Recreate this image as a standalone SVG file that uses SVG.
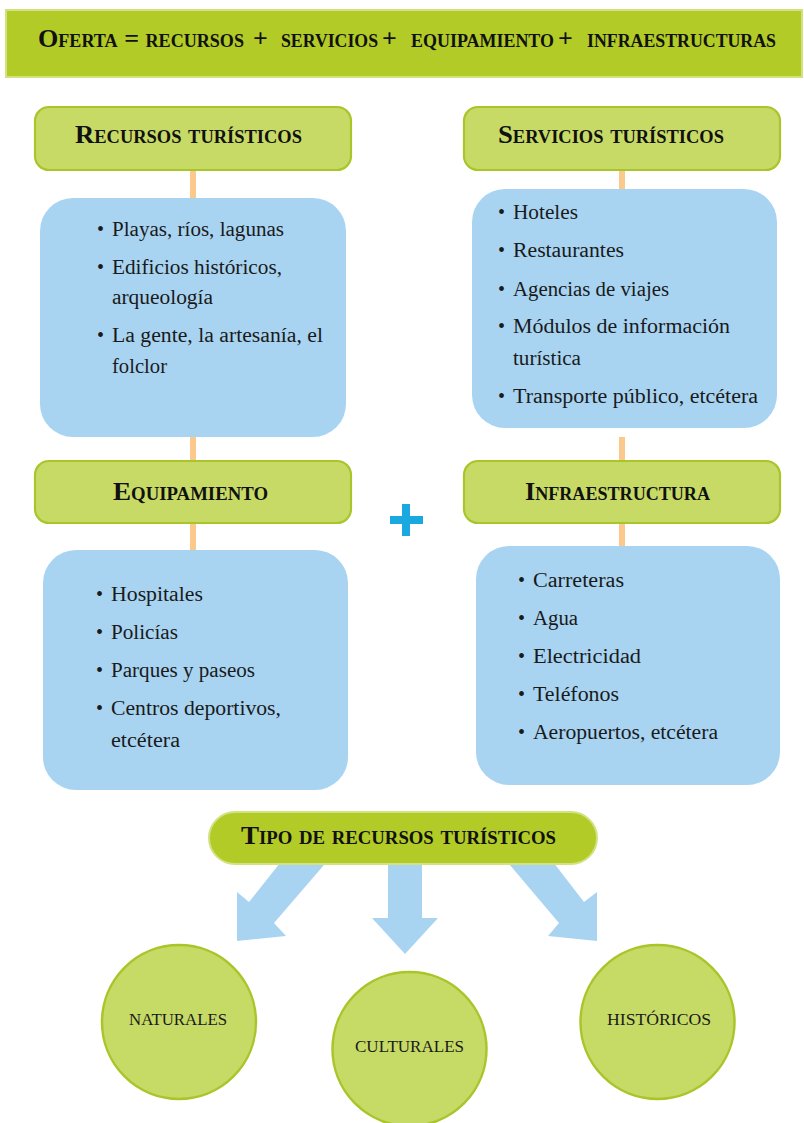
<svg xmlns="http://www.w3.org/2000/svg" width="804" height="1123" viewBox="0 0 804 1123">
<style>
.title{font-family:"Liberation Serif",serif;font-size:26px;font-weight:bold;font-variant:small-caps;fill:#111;text-anchor:middle}
.htxt{font-family:"Liberation Serif",serif;font-size:26px;font-weight:bold;font-variant:small-caps;fill:#111}
.tbox{fill:#c8da66;stroke:#a8c52a;stroke-width:2.2}
.blue{fill:#a8d4f2}
.item{font-family:"Liberation Serif",serif;font-size:20px;fill:#1a1a1a}
.conn{fill:#fcc98c}
.arrow{fill:#a8d4f2}
.circ{fill:#c6da66;stroke:#a9c52a;stroke-width:2.5}
.clab{font-family:"Liberation Serif",serif;font-size:17px;fill:#1a1a1a;text-anchor:middle}
</style>

<g id="header">
<rect x="6" y="10" width="796" height="67" fill="#b2cb27" stroke="#d2e282" stroke-width="2"/>
<text class="htxt" x="38" y="47" textLength="206" lengthAdjust="spacingAndGlyphs">Oferta = recursos</text>
<text class="htxt" x="253" y="47">+</text>
<text class="htxt" x="281" y="47" textLength="97" lengthAdjust="spacingAndGlyphs">servicios</text>
<text class="htxt" x="382" y="47">+</text>
<text class="htxt" x="411" y="47" textLength="143" lengthAdjust="spacingAndGlyphs">equipamiento</text>
<text class="htxt" x="558" y="47">+</text>
<text class="htxt" x="587" y="47" textLength="189" lengthAdjust="spacingAndGlyphs">infraestructuras</text>
</g>

<g id="connectors">
<rect class="conn" x="190" y="170" width="6" height="28"/>
<rect class="conn" x="190" y="437" width="6" height="24"/>
<rect class="conn" x="190" y="523" width="6" height="27"/>
<rect class="conn" x="619" y="170" width="6" height="19"/>
<rect class="conn" x="619" y="437" width="6" height="24"/>
<rect class="conn" x="619" y="523" width="6" height="23"/>
<polygon class="arrow" points="284,858 330,858 274,923 286,936 237,941 237,892 249,902"/>
<polygon class="arrow" points="388,858 422,858 422,918 438,918 405,954 372,918 388,918"/>
<polygon class="arrow" points="504,858 550,858 584,902 597,892 597,941 548,936 559,923"/>
</g>

<g id="recursos-turisticos">
<rect class="tbox" x="35" y="107" width="316" height="63" rx="14"/>
<text class="title" x="188.5" y="143" textLength="227" lengthAdjust="spacingAndGlyphs">Recursos turísticos</text>
</g>

<g id="recursos-lista">
<rect class="blue" x="40" y="198" width="306" height="239" rx="33"/>
<g class="item">
<text x="97" y="236">•</text><text x="112" y="236" textLength="172" lengthAdjust="spacingAndGlyphs">Playas, ríos, lagunas</text>
<text x="97" y="274">•</text><text x="112" y="274" textLength="170" lengthAdjust="spacingAndGlyphs">Edificios históricos,</text>
<text x="112" y="304" textLength="101" lengthAdjust="spacingAndGlyphs">arqueología</text>
<text x="97" y="342">•</text><text x="112" y="342" textLength="211" lengthAdjust="spacingAndGlyphs">La gente, la artesanía, el</text>
<text x="112" y="373" textLength="55" lengthAdjust="spacingAndGlyphs">folclor</text>
</g>
</g>

<g id="servicios-turisticos">
<rect class="tbox" x="464" y="107" width="316" height="63" rx="14"/>
<text class="title" x="611" y="143" textLength="226" lengthAdjust="spacingAndGlyphs">Servicios turísticos</text>
</g>

<g id="servicios-lista">
<rect class="blue" x="472" y="189" width="305" height="239" rx="33"/>
<g class="item">
<text x="498" y="219">•</text><text x="513" y="219" textLength="65" lengthAdjust="spacingAndGlyphs">Hoteles</text>
<text x="498" y="257">•</text><text x="513" y="257" textLength="111" lengthAdjust="spacingAndGlyphs">Restaurantes</text>
<text x="498" y="296">•</text><text x="513" y="296" textLength="156" lengthAdjust="spacingAndGlyphs">Agencias de viajes</text>
<text x="498" y="333">•</text><text x="513" y="333" textLength="217" lengthAdjust="spacingAndGlyphs">Módulos de información</text>
<text x="513" y="365" textLength="68" lengthAdjust="spacingAndGlyphs">turística</text>
<text x="498" y="403">•</text><text x="513" y="403" textLength="245" lengthAdjust="spacingAndGlyphs">Transporte público, etcétera</text>
</g>
</g>

<g id="equipamiento">
<rect class="tbox" x="35" y="461" width="316" height="62" rx="14"/>
<text class="title" x="190.5" y="500" textLength="155" lengthAdjust="spacingAndGlyphs">Equipamiento</text>
</g>

<g id="equipamiento-lista">
<rect class="blue" x="43" y="550" width="305" height="240" rx="33"/>
<g class="item">
<text x="96" y="601">•</text><text x="111" y="601" textLength="92" lengthAdjust="spacingAndGlyphs">Hospitales</text>
<text x="96" y="639">•</text><text x="111" y="639" textLength="67" lengthAdjust="spacingAndGlyphs">Policías</text>
<text x="96" y="677">•</text><text x="111" y="677" textLength="144" lengthAdjust="spacingAndGlyphs">Parques y paseos</text>
<text x="96" y="715">•</text><text x="111" y="715" textLength="170" lengthAdjust="spacingAndGlyphs">Centros deportivos,</text>
<text x="111" y="747" textLength="69" lengthAdjust="spacingAndGlyphs">etcétera</text>
</g>
</g>

<g id="infraestructura">
<rect class="tbox" x="464" y="461" width="316" height="62" rx="14"/>
<text class="title" x="617.5" y="500" textLength="185" lengthAdjust="spacingAndGlyphs">Infraestructura</text>
</g>

<g id="infraestructura-lista">
<rect class="blue" x="476" y="546" width="304" height="239" rx="33"/>
<g class="item">
<text x="518" y="587">•</text><text x="533" y="587" textLength="91" lengthAdjust="spacingAndGlyphs">Carreteras</text>
<text x="518" y="625">•</text><text x="533" y="625" textLength="45" lengthAdjust="spacingAndGlyphs">Agua</text>
<text x="518" y="663">•</text><text x="533" y="663" textLength="108" lengthAdjust="spacingAndGlyphs">Electricidad</text>
<text x="518" y="701">•</text><text x="533" y="701" textLength="86" lengthAdjust="spacingAndGlyphs">Teléfonos</text>
<text x="518" y="739">•</text><text x="533" y="739" textLength="185" lengthAdjust="spacingAndGlyphs">Aeropuertos, etcétera</text>
</g>
</g>

<g id="plus">
<rect x="402" y="504" width="8" height="32" fill="#19a9e0"/>
<rect x="390" y="516" width="33" height="8" fill="#19a9e0"/>
</g>

<g id="tipo-recursos">
<rect x="209" y="812" width="388" height="52" rx="26" fill="#b2cb27" stroke="#d2e282" stroke-width="2"/>
<text class="title" x="398.5" y="844" textLength="315" lengthAdjust="spacingAndGlyphs">Tipo de recursos turísticos</text>
</g>

<g id="naturales">
<circle class="circ" cx="179" cy="1022" r="77"/>
<text class="clab" x="178" y="1025" textLength="98" lengthAdjust="spacingAndGlyphs">NATURALES</text>
</g>

<g id="culturales">
<circle class="circ" cx="409.5" cy="1049" r="77"/>
<text class="clab" x="409.5" y="1052" textLength="109" lengthAdjust="spacingAndGlyphs">CULTURALES</text>
</g>

<g id="historicos">
<circle class="circ" cx="657.5" cy="1022" r="77"/>
<text class="clab" x="659" y="1025" textLength="104" lengthAdjust="spacingAndGlyphs">HISTÓRICOS</text>
</g>
</svg>
